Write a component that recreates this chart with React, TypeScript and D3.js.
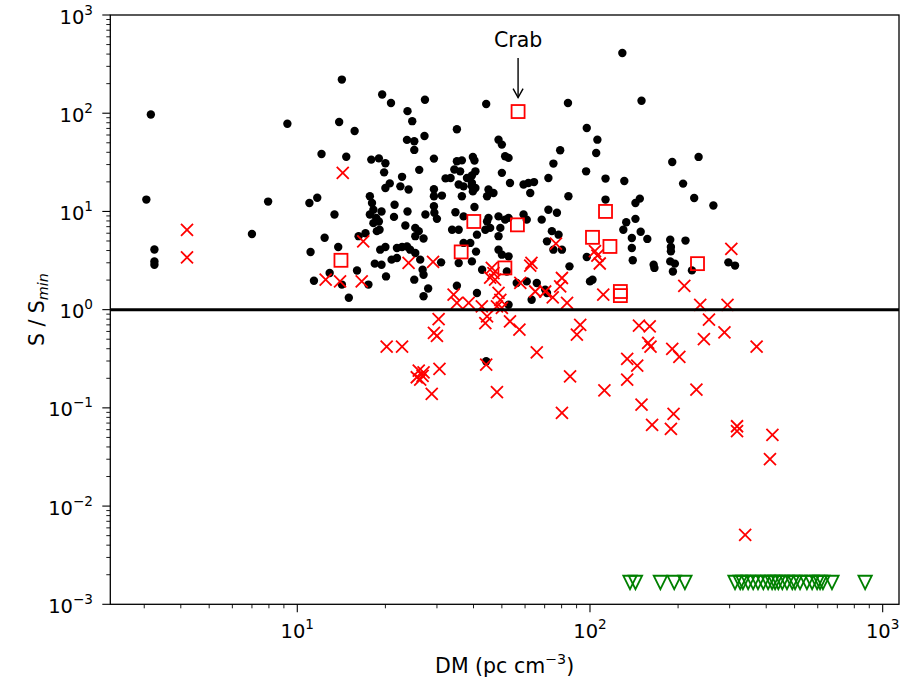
import React from "react";
import * as d3 from "d3";

// Black dots: detected pulsars (DM, S/Smin)
const pulsarDM = [3.16,3.05,3.25,3.25,3.25,7.0,9.25,7.95,13.9,15.7,14.2,19.5,20.9,27.3,44.2,23.8,24.7,35.1,23.7,25.1,27.2,25.1,12.1,14.7,29.3,17.9,19.0,20.0,19.8,26.1,35.1,36.5,39.8,34.4,36.0,32.1,22.8,20.7,20.0,22.5,24.0,29.3,31.2,38.0,39.5,40.6,35.6,37.0,39.5,39.8,45.0,36.5,17.7,11.7,44.5,11.0,18.0,18.2,13.4,17.7,18.6,19.0,18.2,19.1,18.7,19.4,21.5,21.4,23.8,23.4,25.3,26.0,25.3,27.0,27.4,29.3,29.4,30.0,29.3,34.7,37.0,33.8,35.6,40.3,41.1,39.0,37.0,40.8,39.5,42.8,12.4,11.1,13.8,17.1,16.2,19.2,20.0,21.0,21.9,22.8,23.7,24.3,25.3,21.9,18.4,19.4,16.0,20.1,25.1,27.0,26.8,28.0,27.0,11.4,14.2,15.0,31.0,35.1,41.1,12.9,17.5,26.3,40.3,39.5,40.6,33.4,51.3,52.7,50.0,53.3,59.3,61.6,64.4,72.1,75.0,79.1,84.4,62.5,46.8,45.0,44.5,45.6,43.9,48.7,52.7,51.3,49.4,48.7,59.3,60.8,68.4,72.1,77.1,74.1,78.1,71.3,75.0,80.2,48.7,50.0,52.7,35.6,52.0,52.7,56.2,60.8,65.8,63.2,70.3,71.3,85.1,44.2,97.5,106,105,97,113,131,191,235,208,227,264,113,143,148,143,133,130,139,149,157,139,140,188,189,189,212,165,166,188,195,192,223,297,313,97.5,100,102,150,84.1,129,48.7,50.0];
const pulsarS = [97,13.2,4.1,3.09,2.87,5.9,78,12.6,81.5,66,220,155,127,137,124,105,83,68.6,53.5,51.8,58.7,42.3,38.5,36.1,34.5,33.7,34.7,30.9,25.0,26.5,32.4,33.1,35.9,26.7,25.6,21.7,22.5,19.3,17.3,18.0,16.7,16.8,14.5,21.9,23.2,25.6,18.8,18.0,18.0,16.0,16.7,14.3,14.3,13.8,14.3,12.2,12.2,10.4,9.3,9.3,8.6,7.9,7.6,6.5,6.3,10.0,11.7,8.8,10.0,7.2,6.8,6.3,5.6,5.3,9.3,11.3,9.7,8.4,14.3,9.8,8.9,6.5,6.5,11.1,5.8,4.78,4.78,3.9,3.1,2.55,5.4,3.87,4.35,6.0,5.6,4.08,4.35,3.23,4.25,4.35,4.4,4.08,3.78,3.36,2.94,2.87,2.5,2.18,2.02,2.27,2.55,1.64,1.37,1.97,1.8,1.32,3.03,1.75,1.48,2.36,1.8,3.23,33.0,19.5,17.3,21.9,36.4,35.1,24.7,19.5,18.8,19.5,19.9,21.9,30.7,41.9,14.3,15.4,15.4,8.6,7.9,6.8,6.5,8.9,8.6,8.25,6.8,5.6,9.3,8.25,8.25,10.4,9.7,6.3,5.8,4.96,4.08,4.08,4.08,3.63,3.49,2.99,2.45,1.12,1.87,1.94,1.87,1.26,1.6,1.48,2.76,0.298,70.8,53.8,39.4,25.6,21.6,20.4,31.9,35.9,19.2,13.7,11.5,13.2,12.2,13.5,8.4,7.76,6.5,5.37,6.2,5.25,4.25,3.18,5.16,4.35,3.93,5.05,2.87,2.66,3.1,2.94,2.45,2.51,3.03,2.81,3.44,1.94,2.02,134,127,411,53.8,47.9];

// Red crosses
const crossDM = [4.2,4.2,14.3,16.8,12.5,14.0,16.6,24.0,29.1,76.5,62.5,63.1,46.2,46.8,45.6,47.4,57.8,65.0,70.3,74.6,80.2,79.1,83.5,48.7,49.4,48.1,50.0,34.2,35.1,38.5,44.5,43.9,53.3,57.4,30.4,30.0,29.3,20.2,22.8,26.0,26.8,26.3,25.6,27.0,30.6,28.8,44.2,48.1,65.8,85.5,104,106,108,111,210,238,295,304,92.6,90.2,147,160,158,161,191,202,134,145,134,112,150,163,193,189,231,255,245,288,371,318,318,420,80.2,412,339,42.7];
const crossS = [6.5,3.4,24.7,4.95,2.02,1.94,1.94,2.99,3.06,4.7,2.81,2.99,2.66,2.36,2.12,2.02,1.87,1.53,1.53,1.33,2.1,1.73,1.17,1.48,1.26,1.08,1.04,1.42,1.17,1.17,0.855,0.73,0.76,0.625,0.80,0.54,0.58,0.42,0.42,0.24,0.212,0.194,0.205,0.23,0.249,0.139,0.275,0.145,0.367,0.209,3.95,3.55,2.95,1.42,1.75,1.12,1.12,4.15,0.70,0.556,0.687,0.676,0.458,0.42,0.398,0.33,0.315,0.269,0.194,0.151,0.108,0.067,0.087,0.061,0.153,0.79,0.50,0.587,0.42,0.065,0.058,0.053,0.089,0.030,0.0051,1.08];

// Red squares
const squareDM = [56.8,14.1,40.1,36.3,56.5,51.2,113,102,117,233,127,127];
const squareS = [104,3.18,7.9,3.87,7.3,2.66,10.0,5.45,4.4,2.94,1.53,1.39];

// Green triangles (upper limits)
const limitDM = [137,143,174,194,211,313,326,333,347,361,375,391,406,419,429,440,454,471,491,502,522,551,574,597,611,625,671,871];
const limitS = 0.00167;

const yTickExps = [-3,-2,-1,0,1,2,3];
const xTickExps = [1,2,3];
const crabDM = 56.8;
const crabS = 104;

const FONT = "DejaVu Sans";
const W = 904, H = 681;
const L = 110.3, R = 899, T = 15, B = 604.3;
const TICK_FS = 19.5;
const SUP_FS = 13.6;
const LABEL_FS = 20.5;

function expLabel(e: number) {
  return e < 0 ? "\u2212" + Math.abs(e) : String(e);
}

export default function App() {
  const x = d3.scaleLog().domain([2.297, 1137]).range([L, R]);
  const y = d3.scaleLog().domain([1e-3, 1e3]).range([B, T]);
  const isMajor = (v: number) => Math.abs(Math.log10(v) - Math.round(Math.log10(v))) < 1e-9;
  const xMinor = x.ticks().filter((v) => !isMajor(v));
  const yMinor = y.ticks().filter((v) => !isMajor(v));
  const cs = 6;
  const sq = 6.5;
  const tr = 6.7;
  const red = "#ff0000";
  const green = "#008000";

  return (
    <svg width={W} height={H} style={{ position: "absolute", left: 0, top: 0, background: "#fff" }} fontFamily={FONT}>
      <rect x={0} y={0} width={W} height={H} fill="#fff" />
      {/* black dots */}
      {pulsarDM.map((d, i) => (
        <circle key={"p" + i} cx={x(d)} cy={y(pulsarS[i])} r={4.2} fill="#000" />
      ))}
      {/* red crosses */}
      {crossDM.map((d, i) => {
        const cx = x(d), cy = y(crossS[i]);
        return (
          <path key={"c" + i} d={`M${cx - cs},${cy - cs}L${cx + cs},${cy + cs}M${cx - cs},${cy + cs}L${cx + cs},${cy - cs}`} stroke={red} strokeWidth={1.8} fill="none" />
        );
      })}
      {/* red squares */}
      {squareDM.map((d, i) => (
        <rect key={"s" + i} x={x(d) - sq} y={y(squareS[i]) - sq} width={2 * sq} height={2 * sq} fill="none" stroke={red} strokeWidth={1.8} />
      ))}
      {/* green triangles */}
      {limitDM.map((d, i) => {
        const cx = x(d), cy = y(limitS);
        return (
          <path key={"t" + i} d={`M${cx - tr},${cy - tr}L${cx + tr},${cy - tr}L${cx},${cy + tr}Z`} fill="none" stroke={green} strokeWidth={1.8} strokeLinejoin="miter" />
        );
      })}
      {/* S = Smin line */}
      <line x1={L} x2={R} y1={y(1)} y2={y(1)} stroke="#000" strokeWidth={3} />
      {/* frame */}
      <rect x={L} y={T} width={R - L} height={B - T} fill="none" stroke="#000" strokeWidth={1.3} />
      {/* y ticks */}
      {yTickExps.map((e) => (
        <g key={"yt" + e}>
          <line x1={L - 8} x2={L} y1={y(Math.pow(10, e))} y2={y(Math.pow(10, e))} stroke="#000" strokeWidth={1.1} />
          <text x={93} y={y(Math.pow(10, e)) + 8.5} textAnchor="end" fontSize={TICK_FS} fill="#000">
            10<tspan dy={-9} fontSize={SUP_FS}>{expLabel(e)}</tspan>
          </text>
        </g>
      ))}
      {yMinor.map((v, i) => (
        <line key={"ym" + i} x1={L - 4} x2={L} y1={y(v)} y2={y(v)} stroke="#000" strokeWidth={0.9} />
      ))}
      {/* x ticks */}
      {xTickExps.map((e) => (
        <g key={"xt" + e}>
          <line x1={x(Math.pow(10, e))} x2={x(Math.pow(10, e))} y1={B} y2={B + 8} stroke="#000" strokeWidth={1.1} />
          <text x={x(Math.pow(10, e))} y={638} textAnchor="middle" fontSize={TICK_FS} fill="#000">
            10<tspan dy={-9} fontSize={SUP_FS}>{expLabel(e)}</tspan>
          </text>
        </g>
      ))}
      {xMinor.map((v, i) => (
        <line key={"xm" + i} x1={x(v)} x2={x(v)} y1={B} y2={B + 4} stroke="#000" strokeWidth={0.9} />
      ))}
      {/* axis labels */}
      <text x={(L + R) / 2} y={672.5} textAnchor="middle" fontSize={LABEL_FS} fill="#000">
        DM (pc cm<tspan dy={-9} fontSize={14.3}>{"\u22123"}</tspan><tspan dy={9}>)</tspan>
      </text>
      <text transform={`translate(44,${(T + B) / 2}) rotate(-90)`} textAnchor="middle" fontSize={LABEL_FS} fill="#000">
        S / S<tspan dy={4} fontSize={14.3} fontStyle="italic">min</tspan>
      </text>
      {/* Crab annotation */}
      <text x={x(crabDM)} y={47.3} textAnchor="middle" fontSize={LABEL_FS} fill="#000">Crab</text>
      <line x1={x(crabDM)} x2={x(crabDM)} y1={58} y2={y(crabS) - 14} stroke="#000" strokeWidth={1.4} />
      <path d={`M${x(crabDM) - 5},${y(crabS) - 23}L${x(crabDM)},${y(crabS) - 14}L${x(crabDM) + 5},${y(crabS) - 23}`} fill="none" stroke="#000" strokeWidth={1.4} />
    </svg>
  );
}
